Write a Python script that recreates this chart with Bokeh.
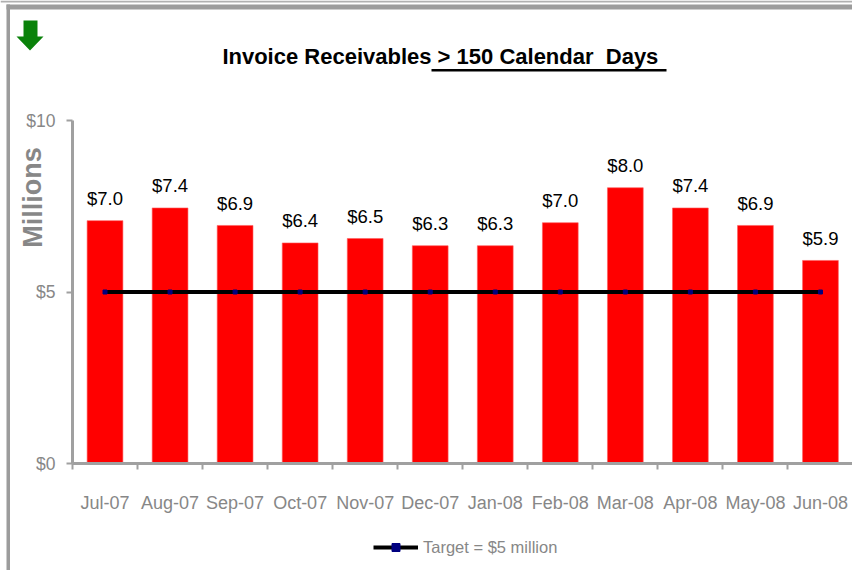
from bokeh.plotting import figure
from bokeh.models import (Range1d, FixedTicker, NumeralTickFormatter, Label, PolyAnnotation,
                          Legend, LegendItem, ColumnDataSource)
from bokeh.core.properties import value
from bokeh.embed import file_html
from bokeh.resources import INLINE

# ---- data ----
months = ["Jul-07", "Aug-07", "Sep-07", "Oct-07", "Nov-07", "Dec-07",
          "Jan-08", "Feb-08", "Mar-08", "Apr-08", "May-08", "Jun-08"]
receivables = [7.08, 7.45, 6.94, 6.43, 6.56, 6.35, 6.35, 7.02, 8.04, 7.45, 6.94, 5.92]
value_labels = ["$7.0", "$7.4", "$6.9", "$6.4", "$6.5", "$6.3",
                "$6.3", "$7.0", "$8.0", "$7.4", "$6.9", "$5.9"]
target = [5.0] * 12
y_ticks = [0, 5, 10]

FONT = "Liberation Sans"
GREY = "#878787"
AXIS_GREY = "#a0a0a0"
NB = "\u00a0"

W, H = 852, 570
X0_PX, Y0_PX = 72, 463        # pixel position of data (0, 0)
PX_X, PX_Y = 65.04, 34.3      # pixels per category / per $1M

def dx(xpx):
    return (xpx - X0_PX) / PX_X

def dy(ypx):
    return (Y0_PX - ypx) / PX_Y

centers = [i + 0.5 for i in range(len(months))]
src = ColumnDataSource(dict(x=centers, v=receivables, lab=value_labels, t=target))

p = figure(width=W, height=H, output_backend="svg", toolbar_location=None,
           x_range=Range1d(dx(0), dx(W)), y_range=Range1d(dy(H), dy(0)),
           min_border=0, min_border_left=0, min_border_right=0,
           min_border_top=0, min_border_bottom=0,
           background_fill_color="white", border_fill_color="white")
p.outline_line_color = None
p.xgrid.visible = False
p.ygrid.visible = False

# bars
p.vbar(x="x", top="v", width=0.55, bottom=0, source=src, fill_color="#ff0000",
       line_color="#ff5c5c", line_width=0.6)

# value labels
p.text(x="x", y="v", text="lab", source=src, text_align="center", text_baseline="alphabetic",
       y_offset=-22, text_font=value(FONT), text_font_size="18.5px", text_color="black")

# target line
tl = p.line(x="x", y="t", source=src, line_color="black", line_width=4)
tm = p.scatter(x="x", y="t", source=src, marker="square", size=4, fill_color="#000080",
               line_color="#000080")

# axes (fixed inside the frame)
xa = p.xaxis[0]
xa.fixed_location = 0
xa.bounds = (0, 12)
xa.ticker = FixedTicker(ticks=centers, minor_ticks=list(range(13)))
xa.major_label_overrides = {c: m for c, m in zip(centers, months)}
xa.major_tick_out = 0
xa.major_tick_in = 0
xa.minor_tick_out = 6
xa.minor_tick_in = 0
xa.minor_tick_line_color = AXIS_GREY
xa.minor_tick_line_width = 2
xa.axis_line_color = AXIS_GREY
xa.axis_line_width = 3
xa.major_label_standoff = 23
xa.major_label_text_font = FONT
xa.major_label_text_font_size = "18px"
xa.major_label_text_color = GREY

ya = p.yaxis[0]
ya.fixed_location = 0
ya.bounds = (0, 10)
ya.ticker = FixedTicker(ticks=y_ticks, minor_ticks=[])
ya.formatter = NumeralTickFormatter(format="$0")
ya.major_tick_out = 6
ya.major_tick_in = 0
ya.major_tick_line_color = AXIS_GREY
ya.major_tick_line_width = 2
ya.axis_line_color = AXIS_GREY
ya.axis_line_width = 3
ya.major_label_standoff = 11
ya.major_label_text_font = FONT
ya.major_label_text_font_size = "17.5px"
ya.major_label_text_color = GREY

# y-axis title
p.add_layout(Label(x=dx(32), y=dy(197), text="Millions", angle=1.5708,
                   text_align="center", text_baseline="middle",
                   text_font=FONT, text_font_style="bold",
                   text_font_size="27px", text_color=GREY))

# chart title (partially underlined)
p.add_layout(Label(x=dx(431), y=dy(56), text="Invoice Receivables", text_align="right",
                   text_baseline="alphabetic", text_font=FONT, text_font_style="bold",
                   text_font_size="22px", text_color="black"))
p.add_layout(Label(x=dx(431), y=dy(56), text=NB + ">" + NB + "150 Calendar" + NB + NB + "Days",
                   text_align="left",
                   text_baseline="alphabetic", text_font=FONT, text_font_style="bold",
                   text_font_size="22px", text_color="black"))
p.add_layout(PolyAnnotation(xs=[dx(431), dx(666), dx(666), dx(431)],
                            ys=[dy(68.5), dy(68.5), dy(71), dy(71)],
                            fill_color="black", fill_alpha=1, line_color=None))

# green down arrow
ax = [23, 37, 37, 43, 29.5, 16, 23]
ay = [20, 20, 36, 36, 50, 36, 36]
p.add_layout(PolyAnnotation(xs=[dx(v) for v in ax], ys=[dy(v) for v in ay],
                            fill_color="#0a820a", fill_alpha=1, line_color=None))

# outer frame lines (grey)
p.add_layout(PolyAnnotation(xs=[dx(0), dx(W), dx(W), dx(0)],
                            ys=[dy(0), dy(0), dy(2), dy(2)],
                            fill_color="#b0b0b0", fill_alpha=1, line_color=None))
p.add_layout(PolyAnnotation(xs=[dx(6), dx(W), dx(W), dx(6)],
                            ys=[dy(4), dy(4), dy(9), dy(9)],
                            fill_color="#9c9c9c", fill_alpha=1, line_color=None))
p.add_layout(PolyAnnotation(xs=[dx(6), dx(9.5), dx(9.5), dx(6)],
                            ys=[dy(4), dy(4), dy(H), dy(H)],
                            fill_color="#9c9c9c", fill_alpha=1, line_color=None))

# legend
legend = Legend(items=[LegendItem(label="Target = $5 million", renderers=[tl, tm])],
                location=(373, 13), orientation="horizontal",
                glyph_width=45, glyph_height=20, label_height=20, label_standoff=5,
                padding=0, margin=0, spacing=0,
                border_line_color=None, background_fill_alpha=0,
                label_text_font=FONT, label_text_font_size="16.5px", label_text_color=GREY)
p.add_layout(legend)

open("out.html", "w").write(file_html(p, INLINE))
